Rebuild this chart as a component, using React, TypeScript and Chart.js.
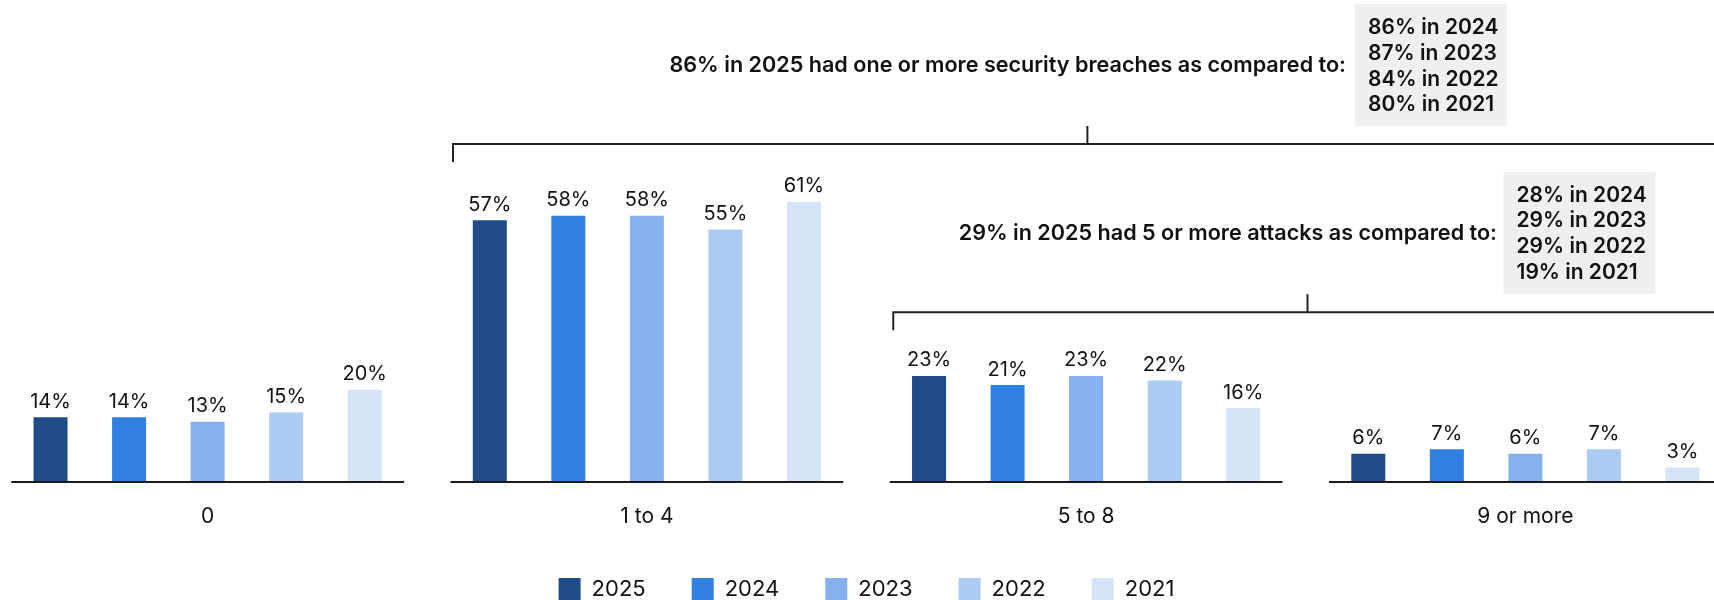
import { useEffect, useRef } from 'react';
import { Chart, registerables } from 'chart.js';

Chart.register(...registerables);

// ---- data ----
const categories = ['0', '1 to 4', '5 to 8', '9 or more'];
const years = ['2025', '2024', '2023', '2022', '2021'];
const values2025 = [14, 57, 23, 6];
const values2024 = [14, 58, 21, 7];
const values2023 = [13, 58, 23, 6];
const values2022 = [15, 55, 22, 7];
const values2021 = [20, 61, 16, 3];
const seriesColors = ['#1f4b87', '#2f80e1', '#86b1ec', '#accbf2', '#d4e3f8'];

const breachHeadline = '86% in 2025 had one or more security breaches as compared to:';
const breachCompare = ['86% in 2024', '87% in 2023', '84% in 2022', '80% in 2021'];
const attackHeadline = '29% in 2025 had 5 or more attacks as compared to:';
const attackCompare = ['28% in 2024', '29% in 2023', '29% in 2022', '19% in 2021'];

const FONT = 'Inter, "Noto Sans", sans-serif';
const SHIFT = 12; // canvas starts 12px left of the page edge
const CAT_PCT = 0.894;

export default function App() {
  const ref = useRef<HTMLCanvasElement>(null);

  useEffect(() => {
    const canvas = ref.current;
    if (!canvas) return;
    const P = (px: number) => px + SHIFT;

    const overlay = {
      id: 'overlay',
      afterDatasetsDraw(chart: any) {
        const ctx = chart.ctx as CanvasRenderingContext2D;
        const xs = chart.scales.x;
        const ys = chart.scales.y;
        const zeroY = ys.getPixelForValue(0);
        const catW = xs.getPixelForValue(1) - xs.getPixelForValue(0);
        const half = (catW * CAT_PCT) / 2;
        ctx.save();
        // baselines per group
        ctx.strokeStyle = '#1a1a1a';
        ctx.lineWidth = 2;
        categories.forEach((_, i) => {
          const cx = xs.getPixelForValue(i);
          ctx.beginPath();
          ctx.moveTo(cx - half, zeroY + 0.7);
          ctx.lineTo(cx + half, zeroY + 0.7);
          ctx.stroke();
        });
        // value labels
        ctx.fillStyle = '#111';
        ctx.font = `400 20px ${FONT}`;
        ctx.textAlign = 'center';
        ctx.textBaseline = 'alphabetic';
        chart.data.datasets.forEach((ds: any, di: number) => {
          const meta = chart.getDatasetMeta(di);
          meta.data.forEach((bar: any, i: number) => {
            ctx.fillText(`${ds.data[i]}%`, bar.x, bar.y - 9.5);
          });
        });

        // brackets
        const bracket = (left: number, right: number, yl: number) => {
          ctx.strokeStyle = '#222';
          ctx.lineWidth = 2;
          ctx.beginPath();
          ctx.moveTo(left, yl + 18);
          ctx.lineTo(left, yl);
          ctx.lineTo(right, yl);
          ctx.lineTo(right, yl + 18);
          const mid = (left + right) / 2;
          ctx.moveTo(mid, yl);
          ctx.lineTo(mid, yl - 18);
          ctx.stroke();
        };
        bracket(xs.getPixelForValue(1) - half + 2.5, xs.getPixelForValue(3) + half, 144);
        bracket(xs.getPixelForValue(2) - half + 3.5, xs.getPixelForValue(3) + half, 312.3);

        // headlines + boxes
        const note = (
          head: string,
          headRight: number,
          headBase: number,
          boxX: number,
          boxY: number,
          lines: string[],
          firstBase: number
        ) => {
          ctx.fillStyle = '#111';
          ctx.font = `600 21.6px ${FONT}`;
          ctx.textAlign = 'right';
          ctx.fillText(head, P(headRight), headBase);
          ctx.fillStyle = '#efefef';
          ctx.fillRect(P(boxX), boxY, 152, 122);
          ctx.fillStyle = '#111';
          ctx.font = `600 21px ${FONT}`;
          ctx.textAlign = 'left';
          lines.forEach((t, k) => ctx.fillText(t, P(boxX + 13), firstBase + 25.6 * k));
        };
        note(breachHeadline, 1346, 72.3, 1355, 4, breachCompare, 34.3);
        note(attackHeadline, 1497, 240, 1503.5, 172, attackCompare, 201.7);
        ctx.restore();
      },
    };

    const seriesValues = [values2025, values2024, values2023, values2022, values2021];
    const chart = new Chart(canvas, {
      type: 'bar',
      data: {
        labels: categories,
        datasets: years.map((y, i) => ({
          label: y,
          data: seriesValues[i],
          backgroundColor: seriesColors[i],
          borderWidth: 0,
          categoryPercentage: CAT_PCT,
          barPercentage: 0.433,
        })),
      },
      options: {
        responsive: false,
        animation: false,
        layout: { padding: { top: 23.3, left: 0, right: 0, bottom: 0 } },
        plugins: {
          tooltip: { enabled: false },
          legend: {
            position: 'bottom',
            labels: {
              font: { family: FONT, size: 22 },
              color: '#111',
              boxWidth: 22,
              boxHeight: 22,
              padding: 46,
            },
          },
        },
        scales: {
          x: {
            offset: true,
            grid: { display: false, drawTicks: false },
            border: { display: false },
            ticks: { font: { family: FONT, size: 21 }, color: '#111', padding: 23 },
            afterFit: (s: any) => {
              s.height = 50.7;
            },
          },
          y: { display: false, min: 0, max: 100 },
        },
      },
      plugins: [overlay],
    });
    return () => chart.destroy();
  }, []);

  return (
    <div
      style={{
        position: 'fixed',
        left: 0,
        top: 0,
        width: 1714,
        height: 600,
        overflow: 'hidden',
        background: '#fff',
      }}
    >
      <canvas
        ref={ref}
        width={1757}
        height={610}
        style={{ position: 'absolute', left: -SHIFT, top: 0, width: 1757, height: 610 }}
      />
    </div>
  );
}
